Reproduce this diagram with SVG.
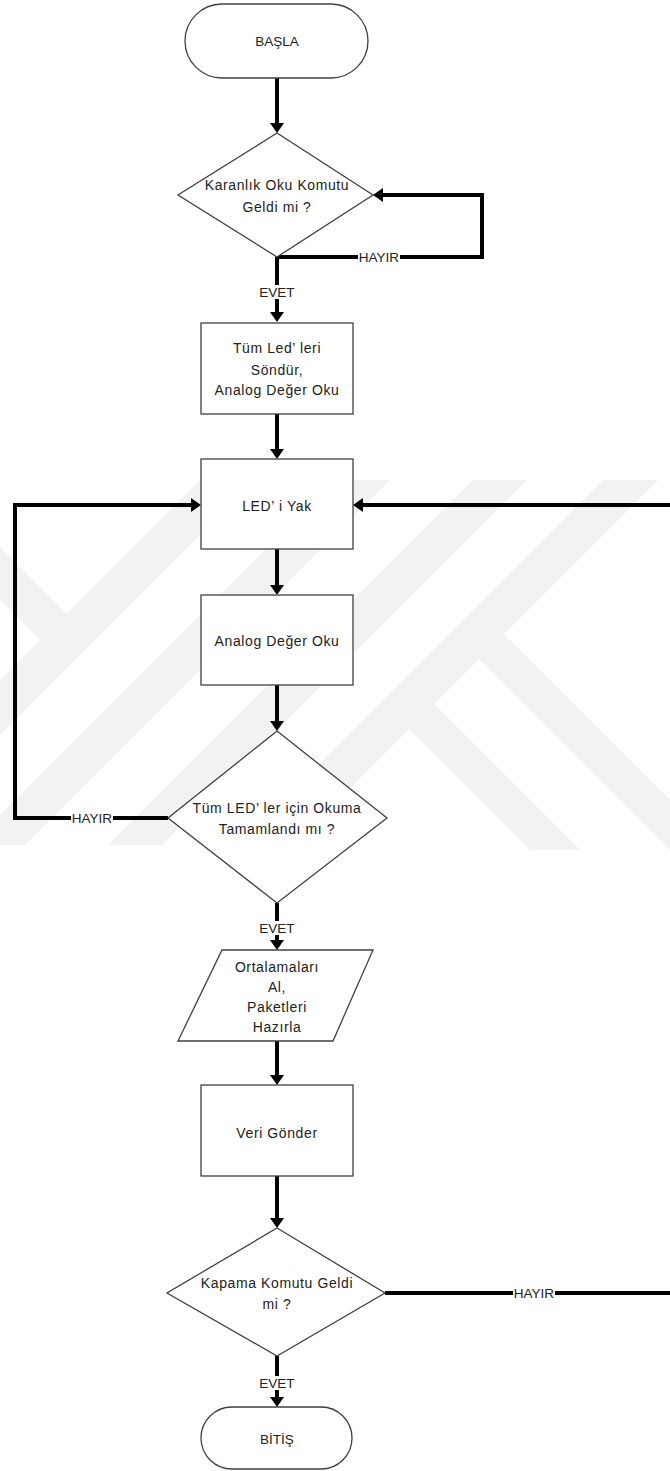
<svg xmlns="http://www.w3.org/2000/svg" width="670" height="1471" viewBox="0 0 670 1471">
<style>
.shape{fill:#fff;stroke:#404040;stroke-width:1.3}
.t{font-family:"Liberation Sans",Arial,sans-serif;font-size:14px;letter-spacing:0.6px;fill:#222;text-anchor:middle}
.c{font-family:"Liberation Sans",Arial,sans-serif;font-size:13.5px;fill:#222;text-anchor:middle}
.conn{fill:none;stroke:#000;stroke-width:4}
.bg{fill:#fff}
</style>
<defs>
<marker id="arr" viewBox="0 0 10 14" refX="7" refY="7" markerWidth="10" markerHeight="14" markerUnits="userSpaceOnUse" orient="auto">
<path d="M0,0 L10,7 L0,14 z" fill="#000"/>
</marker>
</defs>
<rect width="670" height="1471" fill="#fff"/>
<g id="watermark" fill="#f2f2f2">
<polygon points="200,480 255,480 0,735 0,680"/>
<polygon points="335,480 390,480 25,845 -30,845"/>
<polygon points="473,480 527,480 162,845 108,845"/>
<polygon points="603,480 658,480 293,845 238,845"/>
<polygon points="434,704 580,850 530,850 409,729"/>
<polygon points="504,634 720,850 670,850 479,659"/>
<polygon points="0,547 68,615 41,641 0,600"/>
</g>
<g id="connectors">
<path class="conn" d="M277,78 V130" marker-end="url(#arr)"/>
<path class="conn" d="M277,257 H482 V195 H376" marker-end="url(#arr)"/>
<path class="conn" d="M277,257 V319" marker-end="url(#arr)"/>
<path class="conn" d="M277,414 V456" marker-end="url(#arr)"/>
<path class="conn" d="M277,549 V592" marker-end="url(#arr)"/>
<path class="conn" d="M277,685 V728" marker-end="url(#arr)"/>
<path class="conn" d="M168,818 H15 V505 H198" marker-end="url(#arr)"/>
<path class="conn" d="M277,903 V947" marker-end="url(#arr)"/>
<path class="conn" d="M277,1041 V1082" marker-end="url(#arr)"/>
<path class="conn" d="M277,1176 V1225" marker-end="url(#arr)"/>
<path class="conn" d="M385,1293 H676 V505 H356" marker-end="url(#arr)"/>
<path class="conn" d="M277,1356 V1404" marker-end="url(#arr)"/>
<rect class="bg" x="358" y="250" width="42" height="14"/>
<text class="c" x="379" y="262">HAYIR</text>
<rect class="bg" x="259" y="285" width="36" height="14"/>
<text class="c" x="277" y="297">EVET</text>
<rect class="bg" x="71" y="811" width="42" height="14"/>
<text class="c" x="92" y="823">HAYIR</text>
<rect class="bg" x="259" y="921" width="36" height="14"/>
<text class="c" x="277" y="933">EVET</text>
<rect class="bg" x="513" y="1286" width="42" height="14"/>
<text class="c" x="534" y="1298">HAYIR</text>
<rect class="bg" x="259" y="1376" width="36" height="14"/>
<text class="c" x="277" y="1388">EVET</text>
</g>
<g id="start">
<rect class="shape" x="185" y="4" width="183" height="74" rx="37"/>
<text class="c" x="277" y="46">BAŞLA</text>
</g>
<g id="dec1">
<polygon class="shape" points="277,133 373,195 277,257 178,195"/>
<text class="t" x="277" y="190">Karanlık Oku Komutu</text>
<text class="t" x="277" y="212">Geldi mi ?</text>
</g>
<g id="box1">
<rect class="shape" x="201" y="323" width="152" height="91"/>
<text class="t" x="277" y="353">Tüm Led’ leri</text>
<text class="t" x="277" y="375">Söndür,</text>
<text class="t" x="277" y="395">Analog Değer Oku</text>
</g>
<g id="box2">
<rect class="shape" x="201" y="459" width="152" height="90"/>
<text class="t" x="277" y="511">LED’ i Yak</text>
</g>
<g id="box3">
<rect class="shape" x="201" y="595" width="152" height="90"/>
<text class="t" x="277" y="646">Analog Değer Oku</text>
</g>
<g id="dec2">
<polygon class="shape" points="277,731 387,818 277,903 168,818"/>
<text class="t" x="277" y="813">Tüm  LED’ ler için Okuma</text>
<text class="t" x="277" y="834">Tamamlandı mı ?</text>
</g>
<g id="io">
<polygon class="shape" points="222,950 373,950 333,1041 178,1041"/>
<text class="t" x="277" y="972">Ortalamaları</text>
<text class="t" x="277" y="992">Al,</text>
<text class="t" x="277" y="1012">Paketleri</text>
<text class="t" x="277" y="1032">Hazırla</text>
</g>
<g id="box4">
<rect class="shape" x="201" y="1085" width="152" height="91"/>
<text class="t" x="277" y="1138">Veri Gönder</text>
</g>
<g id="dec3">
<polygon class="shape" points="277,1228 385,1293 277,1356 167,1293"/>
<text class="t" x="277" y="1288">Kapama Komutu Geldi</text>
<text class="t" x="277" y="1309">mi ?</text>
</g>
<g id="end">
<rect class="shape" x="201" y="1407" width="151" height="62" rx="31"/>
<text class="c" x="277" y="1444">BİTİŞ</text>
</g>
</svg>
